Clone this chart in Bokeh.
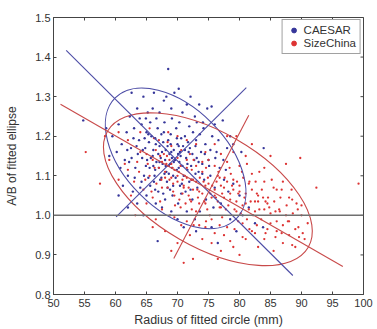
from bokeh.plotting import figure
from bokeh.models import Range1d, FixedTicker, PrintfTickFormatter, Span, Legend, LegendItem
from bokeh.embed import file_html
from bokeh.resources import INLINE

# ---------------- data ----------------
x_ticks = [50, 55, 60, 65, 70, 75, 80, 85, 90, 95, 100]
y_ticks = [0.8, 0.9, 1.0, 1.1, 1.2, 1.3, 1.4, 1.5]
x_min, x_max = 50, 100
y_min, y_max = 0.8, 1.5
reference_ab = 1.0

blue_pts = [
    (62.6,1.31),(64.5,1.30),(66.2,1.31),(67.8,1.29),(69.5,1.31),(70.2,1.32),(72.1,1.30),(73.5,1.28),
    (74.8,1.27),(68.5,1.37),(66.0,1.27),(67.1,1.26),(69.0,1.27),(70.8,1.26),(71.5,1.28),(72.8,1.25),
    (65.2,1.26),(63.5,1.27),(68.2,1.30),(75.5,1.275),(77.3,1.24),(76.0,1.23),(74.2,1.22),(78.5,1.20),
    (79.0,1.18),(80.3,1.16),(83.9,1.17),(54.8,1.24),(58.5,1.22),(59.5,1.20),(60.5,1.23),(61.0,1.18),
    (61.8,1.21),(62.3,1.25),(63.0,1.22),(60.2,1.16),(59.0,1.15),(61.5,1.14),(62.5,1.17),(63.8,1.19),
    (64.2,1.23),(65.0,1.21),(64.8,1.17),(63.2,1.12),(62.0,1.10),(60.8,1.12),
    (66,1.15),(66.5,1.18),(67,1.12),(67.5,1.16),(68,1.14),(68.2,1.11),(68.5,1.19),(68.8,1.13),
    (69,1.16),(69.3,1.10),(69.6,1.14),(70,1.18),(70.2,1.12),(70.5,1.15),(71,1.10),(71.2,1.20),
    (71.6,1.13),(72,1.17),(72.3,1.09),(72.7,1.14),(73,1.19),(73.4,1.11),(65.5,1.12),(65.8,1.20),
    (66.8,1.22),(67.2,1.09),(67.8,1.21),(68.4,1.07),(69.8,1.22),(70.7,1.08),(66.3,1.10),(67.6,1.13),
    (68.9,1.18),(69.1,1.12),(70.4,1.16),(71.8,1.16),(72.5,1.21),(73.8,1.16),(74.5,1.18),(75.0,1.14),
    (74.0,1.13),(75.6,1.20),(76.3,1.16),(76.8,1.12),(65.1,1.14),(64.6,1.10),(66.9,1.06),(68.0,1.04),
    (69.2,1.05),(70.1,1.03),(71.3,1.06),(72.4,1.04),(73.2,1.07),(74.3,1.09),(75.3,1.10),(76.0,1.07),
    (77.5,1.09),(78.2,1.06),(79.0,1.08),(80.0,1.05),(77.0,1.03),(75.8,1.02),(74.6,1.04),(73.6,1.01),
    (72.8,0.99),(71.5,1.01),(70.0,0.99),(69.0,1.01),(67.5,1.02),(66.5,1.03),(65.0,1.05),(64.0,1.07),
    (63.5,1.03),(62.8,1.06),(64.5,1.00),(66.8,0.935),(71.0,0.97),(73.0,0.96),(75.5,0.97),(78.5,0.99),
    (80.5,1.00),(81.5,1.02),(82.5,0.98),(76.5,0.93),(79.5,0.96),(83.8,0.97),
    (67.3,1.145),(68.6,1.125),(69.4,1.135),(68.1,1.165),(67.9,1.105),(70.3,1.135),(69.7,1.095),(66.6,1.135),
    (71.4,1.145),(68.7,1.155),(67.1,1.175),(70.9,1.175),(69.9,1.195),(66.1,1.165),(65.4,1.185),(72.2,1.125),
    (73.1,1.145),(71.9,1.085),(70.6,1.055),(68.3,1.085),(66.2,1.085),(64.3,1.145),(63.6,1.155),(62.2,1.135),
    (61.2,1.075),(60.5,1.05),(62.0,1.02),
    (64.7,1.195),(65.3,1.205),(66.4,1.195),(67.4,1.205),(68.9,1.205),(70.6,1.195),(71.7,1.185),(72.9,1.175),
    (73.6,1.205),(74.1,1.235),(73.1,1.235),(71.9,1.225),(70.3,1.235),(69.1,1.245),(67.9,1.235),(66.6,1.245),
    (65.6,1.235),(64.9,1.245),(63.9,1.245),(62.9,1.195),(61.9,1.165),(62.6,1.145),(63.4,1.175),(64.4,1.165),
    (65.7,1.145),(66.9,1.155),(67.7,1.185),(68.4,1.175),(69.4,1.165),(70.1,1.155),(70.8,1.125),(69.9,1.115),
    (68.6,1.105),(67.4,1.095),(66.4,1.115),(65.3,1.095),(64.2,1.085),(63.1,1.095),(64.9,1.125),(66.1,1.125),
    (67.1,1.135),(68.1,1.125),(69.1,1.145),(70.2,1.175),(71.2,1.165),(72.4,1.155),(73.4,1.135),(74.4,1.155),
    (75.3,1.165),(76.1,1.145),(75.1,1.125),(74.0,1.105),(72.9,1.105),(71.6,1.115),(72.1,1.065),(70.4,1.075),
    (69.3,1.075),(68.8,1.065),(67.7,1.055),(66.4,1.065),(65.6,1.075),(77.4,1.14),(78.0,1.17),(76.6,1.19),
    (77.8,1.115),
]

red_pts = [
    (55.2,1.16),(57.5,1.08),(58.3,1.20),(59.0,1.14),(60.5,1.09),(61.5,1.13),(62.5,1.05),(63.2,1.00),
    (64.0,1.16),(65.0,1.03),(65.5,1.10),(66.0,1.14),(66.5,0.99),(67,1.12),(67.5,1.07),(68,1.11),
    (68.3,1.15),(68.7,1.09),(69,1.13),(69.5,1.05),(70,1.10),(70.5,1.02),(71,1.07),(71.5,1.12),
    (72,1.04),(72.5,1.09),(73,1.00),(73.5,1.06),(74,1.11),(74.5,1.03),(75,1.08),(75.5,0.99),
    (76,1.05),(76.5,1.10),(77,1.02),(77.5,1.07),(78,0.97),(78.5,1.04),(79,1.09),(79.5,1.01),
    (80,1.06),(80.5,0.98),(81,1.03),(81.5,1.08),(82,0.96),(82.5,1.01),(83,1.05),(83.5,0.99),
    (84,0.94),(84.5,1.03),(85,0.98),(85.5,1.07),(86,0.96),(86.5,1.01),(87,0.93),(87.5,1.00),
    (88,0.95),(88.5,1.04),(89,0.92),(89.5,0.97),(90,1.00),(90.5,0.94),(91,0.98),(92.4,1.07),
    (99.2,1.08),(89.8,1.145),(87.5,1.13),(85,1.15),(82,1.18),(79.5,1.20),(78,1.20),
    (76,1.18),(74.5,1.16),(73,1.18),(71.5,1.19),(70,1.20),(68.5,1.21),(67,1.19),(65.5,1.22),
    (64,1.21),(62,1.19),(60.5,1.21),(75.5,0.93),(77,0.91),(79,0.92),(81,0.94),(80,0.90),
    (77.5,0.95),(74,0.94),(72,0.95),(71,0.88),(72.5,0.89),(70,0.93),(68,0.96),(66,0.97),
    (69,0.91),(83,0.92),(85.5,0.91),(76.5,0.89),(74.5,0.97),(73.5,1.03),(76.5,1.035),(77.5,1.045),
    (78.5,1.055),(79.5,1.035),(80.5,1.025),(81.5,1.015),(82.5,1.035),(75.5,1.045),(74,1.055),(72.5,1.065),
    (71,1.075),(70,1.085),(69,1.095),(68.5,1.125),(67.5,1.135),(68,1.095),(69.5,1.115),(70.5,1.125),
    (71.5,1.095),(73,1.085),(74.5,1.075),(76,1.065),(77,1.075),(78,1.085),(79,1.065),(80,1.075),
    (81,1.055),(82,1.065),(83,1.035),(84,1.015),(85,1.005),(86,0.985),(87,0.975),(88,0.985),
    (89,0.965),(84.5,0.965),(82.5,0.955),(80.5,0.945),(78.5,0.935),(76,0.955),(73.5,0.975),(71.5,0.985),
    (69.5,0.995),(67.5,1.015),(66,1.045),(64.5,1.065),(63,1.085),(62,1.115),(63.5,1.135),(65,1.155),
    (66.5,1.165),(69,1.175),(72,1.155),(74,1.135),(76,1.125),(78,1.135),(80,1.125),(82,1.105),
    (84,1.085),(86,1.065),(88,1.045),(90,1.025),(87,1.085),(84,1.12),(81,1.15),(79,1.16),
    (77,1.155),(75,1.14),(73,1.125),(71.5,1.14),(70,1.145),(68.7,1.14),(67.8,1.155),(69.3,1.08),
    (70.8,1.055),(72.2,1.035),(74.8,1.015),(77.2,0.995),(79.8,0.985),(82.8,0.975),(85.8,0.945),(88.5,0.925),
    (90.2,0.955),(77.8,1.015),(75.2,1.0),(73,1.01),(76.8,1.02),
    (72.3,1.115),(73.6,1.095),(74.9,1.095),(76.3,1.085),(77.6,1.095),(78.6,1.105),(79.6,1.085),(80.6,1.095),
    (81.6,1.085),(82.6,1.085),(83.6,1.065),(84.6,1.045),(85.6,1.035),(86.6,1.045),(87.6,1.025),(88.6,1.005),
    (89.4,1.015),(86.4,1.015),(84.2,1.035),(83.2,1.015),(82.2,1.0),(81.2,0.99),(80.2,1.005),(79.2,1.015),
    (78.2,1.025),(77.2,1.055),(76.2,1.045),(75.3,1.055),(74.3,1.035),(73.3,1.045),(72.3,1.015),(71.3,1.03),
    (70.3,1.04),(69.3,1.06),(68.4,1.07),(67.4,1.09),(66.6,1.08),(65.8,1.06),(64.8,1.09),(63.8,1.11),
    (65.2,1.13),(66.3,1.12),(67.2,1.15),(68.2,1.13),(69.2,1.12),(70.2,1.11),(71.2,1.10),(72.2,1.09),
    (73.2,1.065),(74.2,1.085),(75.6,1.075),(76.8,1.095),(78.8,1.075),(79.8,1.055),(80.8,1.045),(81.8,1.035),
    (82.8,1.055),(83.8,1.045),(84.8,1.02),(85.8,1.01),(87.8,0.985),(89.6,0.945),(86.8,0.955),(84.2,0.955),
    (81.6,0.965),(79.2,0.965),(76.8,0.975),(74.6,0.985),(72.6,0.975),(70.6,0.975),(68.8,1.0),(67.2,1.035),
    (69.6,1.025),(71.8,1.05),(70.8,1.09),(71.8,1.07),(66.2,1.195),(68.4,1.185),(70.6,1.165),(72.6,1.14),
    (74.6,1.12),(76.6,1.11),(78.4,1.12),(80.4,1.11),(81.2,1.13),(83.2,1.11),(85.2,1.09),(86.8,1.065),
    (88.4,1.065),(89.2,1.03),
]

blue_x = [p[0] for p in blue_pts]
blue_y = [p[1] for p in blue_pts]
red_x = [p[0] for p in red_pts]
red_y = [p[1] for p in red_pts]

# fitted ellipses: centre, semi-axes (mm-equivalent), tilt angle (deg)
mm_to_ab = 0.01561          # A/B units per mm-equivalent on the screen aspect
blue_ell = dict(cx=69.7, cy=1.144, a=13.8, b=8.2, angle=-45)
red_ell = dict(cx=74.9, cy=1.066, a=18.7, b=9.3, angle=-30)

# principal axis lines (endpoints)
blue_axis_x0 = [52.05, 60.1]
blue_axis_y0 = [1.417, 0.996]
blue_axis_x1 = [88.6, 81.1]
blue_axis_y1 = [0.848, 1.323]
red_axis_x0 = [51.13, 69.4]
red_axis_y0 = [1.281, 0.891]
red_axis_x1 = [96.67, 81.5]
red_axis_y1 = [0.871, 1.253]

BLUE = "#36369a"
RED = "#dd3333"
BLUE_LINE = "#4d4da6"
RED_LINE = "#c84a4a"
TXT = "#333333"
AXC = "#444444"
FONT = "Liberation Sans"

p = figure(width=377, height=329, output_backend="svg", toolbar_location=None,
           x_range=Range1d(x_min, x_max), y_range=Range1d(y_min, y_max),
           min_border_left=53, min_border_right=14, min_border_top=17, min_border_bottom=34)
p.title = None
p.grid.visible = False
p.outline_line_color = AXC
p.outline_line_width = 1
p.background_fill_color = "white"
p.border_fill_color = "white"

for ax in (p.xaxis[0], p.yaxis[0]):
    ax.major_tick_in = 3
    ax.major_tick_out = 0
    ax.minor_tick_line_color = None
    ax.axis_line_color = AXC
    ax.major_tick_line_color = AXC
    ax.major_label_text_font = FONT
    ax.major_label_text_font_size = "11px"
    ax.major_label_text_color = TXT
    ax.axis_label_text_font = FONT
    ax.axis_label_text_font_style = "normal"
    ax.axis_label_text_color = TXT

p.xaxis[0].axis_label_text_font_size = "12.5px"
p.yaxis[0].axis_label_text_font_size = "12px"
p.xaxis[0].major_label_standoff = 4
p.xaxis[0].axis_label_standoff = 3
p.yaxis[0].major_label_standoff = 3
p.yaxis[0].axis_label_standoff = 13

p.xaxis[0].ticker = FixedTicker(ticks=x_ticks)
p.yaxis[0].ticker = FixedTicker(ticks=y_ticks)
p.yaxis[0].formatter = PrintfTickFormatter(format="%.1f")
p.xaxis[0].axis_label = "Radius of fitted circle (mm)"
p.yaxis[0].axis_label = "A/B of fitted ellipse"

# inward ticks on top and right edges of the box
p.scatter(x=x_ticks, y=[y_max] * len(x_ticks), marker="dash", size=6, angle=90,
          angle_units="deg", line_color=AXC, line_width=1)
p.scatter(x=[x_max] * len(y_ticks), y=y_ticks, marker="dash", size=6,
          line_color=AXC, line_width=1)

p.add_layout(Span(location=reference_ab, dimension="width", line_color="#707070", line_width=1.5))

p.scatter(blue_x, blue_y, size=2.4, color=BLUE, line_width=0)
p.scatter(red_x, red_y, size=2.3, color=RED, line_width=0)

for ell, col in ((blue_ell, BLUE_LINE), (red_ell, RED_LINE)):
    p.ellipse(x=[ell["cx"]], y=[ell["cy"]], width=[2 * ell["a"]],
              height=[2 * ell["b"] * mm_to_ab], angle=[ell["angle"]], angle_units="deg",
              fill_color=None, line_color=col, line_width=1.1)

p.segment(blue_axis_x0, blue_axis_y0, blue_axis_x1, blue_axis_y1, line_color=BLUE_LINE, line_width=1.1)
p.segment(red_axis_x0, red_axis_y0, red_axis_x1, red_axis_y1, line_color=RED_LINE, line_width=1.1)

nan = float("nan")
lb = p.scatter(x=[nan], y=[nan], size=5, color=BLUE)
lr = p.scatter(x=[nan], y=[nan], size=5, color=RED)
legend = Legend(items=[LegendItem(label="CAESAR", renderers=[lb]),
                       LegendItem(label="SizeChina", renderers=[lr])],
                location="top_right", margin=2, padding=4, spacing=1,
                label_text_font=FONT, label_text_font_size="11.5px", label_text_color=TXT,
                label_height=12, glyph_height=12, glyph_width=14, label_standoff=3,
                border_line_color=AXC, border_line_width=1,
                background_fill_color="white", background_fill_alpha=1)
p.add_layout(legend, "center")

open("out.html", "w").write(file_html(p, INLINE))
